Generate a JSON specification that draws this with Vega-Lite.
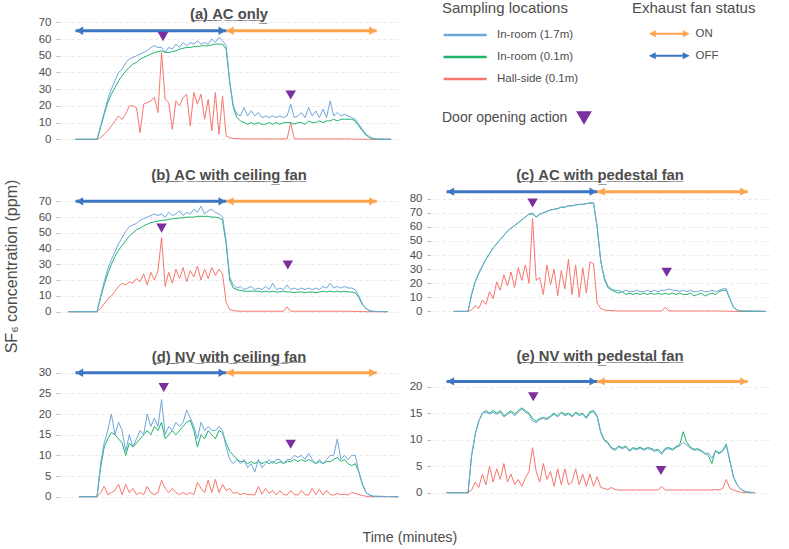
{
  "$schema": "https://vega.github.io/schema/vega-lite/v6.json",
  "background": "white",
  "padding": {"left": 3, "top": 1, "right": 5, "bottom": 5},
  "title": {"text": "Time (minutes)", "orient": "bottom", "anchor": "middle", "fontSize": 14.3, "fontWeight": "normal", "color": "#4d4d4d", "offset": 27, "dx": 23},
  "config": {
    "font": "Liberation Sans",
    "view": {"stroke": null},
    "title": {"fontSize": 14.8, "fontWeight": "bold", "color": "#4d4d4d"},
    "axis": {"labelColor": "#4d4d4d", "labelFontSize": 11.5, "tickColor": "#b5b5b5", "tickSize": 3, "labelPadding": 5, "domainColor": "#cfcfcf", "gridColor": "#e8e8e8", "gridDash": [3, 3], "titleFontWeight": "normal", "titleColor": "#4d4d4d", "titleFontSize": 16},
    "legend": {"titleFontWeight": "normal", "titleFontSize": 15, "titleColor": "#4d4d4d", "labelFontSize": 11.5, "labelColor": "#4d4d4d", "titleLimit": 300}
  },
  "datasets": {
    "ts": [
      {"p":"a","t":-30,"h":0,"l":0,"s":0},{"p":"a","t":0,"h":0,"l":0,"s":0},{"p":"a","t":5,"h":8,"l":7,"s":1},{"p":"a","t":10,"h":16,"l":15,"s":3},{"p":"a","t":15,"h":24,"l":22,"s":5},{"p":"a","t":20,"h":30,"l":27,"s":8},{"p":"a","t":25,"h":35,"l":31,"s":11},{"p":"a","t":30,"h":40,"l":35,"s":14},{"p":"a","t":35,"h":42,"l":38,"s":12},{"p":"a","t":40,"h":46,"l":41,"s":15},{"p":"a","t":45,"h":48,"l":43,"s":20},{"p":"a","t":50,"h":49,"l":45,"s":20},{"p":"a","t":55,"h":50,"l":46,"s":19},{"p":"a","t":60,"h":51,"l":48,"s":4},{"p":"a","t":65,"h":52,"l":49,"s":21},{"p":"a","t":70,"h":53,"l":50,"s":22},{"p":"a","t":75,"h":55,"l":51,"s":23},{"p":"a","t":80,"h":56,"l":52,"s":25},{"p":"a","t":85,"h":55,"l":52.5,"s":16},{"p":"a","t":90,"h":55,"l":53,"s":52},{"p":"a","t":95,"h":52,"l":52,"s":24},{"p":"a","t":100,"h":55,"l":52,"s":22},{"p":"a","t":105,"h":54,"l":52.5,"s":6},{"p":"a","t":110,"h":57,"l":53,"s":23},{"p":"a","t":115,"h":55,"l":54,"s":20},{"p":"a","t":120,"h":58,"l":54.5,"s":25},{"p":"a","t":125,"h":56,"l":55,"s":27},{"p":"a","t":130,"h":58,"l":55,"s":8},{"p":"a","t":135,"h":57,"l":55.5,"s":28},{"p":"a","t":140,"h":59,"l":55.5,"s":21},{"p":"a","t":145,"h":57,"l":56,"s":27},{"p":"a","t":150,"h":58,"l":56,"s":12},{"p":"a","t":155,"h":57,"l":56,"s":24},{"p":"a","t":160,"h":60,"l":56.5,"s":5},{"p":"a","t":165,"h":58,"l":57,"s":28},{"p":"a","t":170,"h":61,"l":57,"s":3},{"p":"a","t":175,"h":59,"l":57,"s":26},{"p":"a","t":180,"h":56,"l":54,"s":2},{"p":"a","t":185,"h":35,"l":34,"s":1},{"p":"a","t":190,"h":20,"l":19,"s":0.5},{"p":"a","t":195,"h":15,"l":13,"s":0.4},{"p":"a","t":200,"h":14,"l":11,"s":0.3},{"p":"a","t":205,"h":19,"l":10,"s":0.3},{"p":"a","t":210,"h":14,"l":9,"s":0.2},{"p":"a","t":215,"h":17,"l":10,"s":0.2},{"p":"a","t":220,"h":14,"l":9,"s":0.2},{"p":"a","t":225,"h":16,"l":10,"s":0.2},{"p":"a","t":230,"h":13,"l":9,"s":0.2},{"p":"a","t":235,"h":14,"l":9,"s":0.2},{"p":"a","t":240,"h":13,"l":10,"s":0.2},{"p":"a","t":245,"h":14,"l":9,"s":0.2},{"p":"a","t":250,"h":13,"l":10,"s":0.2},{"p":"a","t":255,"h":14,"l":9,"s":0.2},{"p":"a","t":260,"h":13,"l":10,"s":0.2},{"p":"a","t":265,"h":14,"l":10,"s":0.2},{"p":"a","t":270,"h":21,"l":10,"s":10},{"p":"a","t":275,"h":13,"l":9,"s":0.3},{"p":"a","t":280,"h":14,"l":10,"s":0.2},{"p":"a","t":285,"h":16,"l":10,"s":0.2},{"p":"a","t":290,"h":13,"l":9,"s":0.2},{"p":"a","t":295,"h":19,"l":11,"s":0.2},{"p":"a","t":300,"h":14,"l":10,"s":0.2},{"p":"a","t":305,"h":17,"l":10,"s":0.2},{"p":"a","t":310,"h":13,"l":11,"s":0.2},{"p":"a","t":315,"h":18,"l":10,"s":0.2},{"p":"a","t":320,"h":13,"l":11,"s":0.2},{"p":"a","t":325,"h":23,"l":11,"s":0.2},{"p":"a","t":330,"h":14,"l":12,"s":0.2},{"p":"a","t":335,"h":16,"l":11,"s":0.2},{"p":"a","t":340,"h":14,"l":12,"s":0.2},{"p":"a","t":345,"h":15,"l":12,"s":0.2},{"p":"a","t":350,"h":14,"l":12,"s":0.2},{"p":"a","t":355,"h":13,"l":12,"s":0.2},{"p":"a","t":360,"h":12,"l":11,"s":0.1},{"p":"a","t":365,"h":9,"l":8,"s":0.1},{"p":"a","t":370,"h":6,"l":5,"s":0.1},{"p":"a","t":375,"h":3,"l":2.5,"s":0},{"p":"a","t":380,"h":1.5,"l":1,"s":0},{"p":"a","t":385,"h":0.5,"l":0.3,"s":0},{"p":"a","t":390,"h":0.1,"l":0.1,"s":0},{"p":"a","t":410,"h":0,"l":0,"s":0},
      {"p":"b","t":-40,"h":0,"l":0,"s":0},{"p":"b","t":0,"h":0,"l":0,"s":0},{"p":"b","t":5,"h":10,"l":9,"s":2},{"p":"b","t":10,"h":19,"l":17,"s":5},{"p":"b","t":15,"h":27,"l":24,"s":8},{"p":"b","t":20,"h":33,"l":30,"s":10},{"p":"b","t":25,"h":38,"l":35,"s":13},{"p":"b","t":30,"h":43,"l":39,"s":16},{"p":"b","t":35,"h":47,"l":42,"s":18},{"p":"b","t":40,"h":51,"l":45,"s":17},{"p":"b","t":45,"h":54,"l":48,"s":19},{"p":"b","t":50,"h":55,"l":50,"s":18},{"p":"b","t":55,"h":56,"l":52,"s":21},{"p":"b","t":60,"h":58,"l":53,"s":19},{"p":"b","t":65,"h":59,"l":54.5,"s":24},{"p":"b","t":70,"h":60,"l":55.5,"s":17},{"p":"b","t":75,"h":61,"l":56.5,"s":25},{"p":"b","t":80,"h":62,"l":57,"s":20},{"p":"b","t":85,"h":61,"l":57.5,"s":26},{"p":"b","t":90,"h":62,"l":58,"s":47},{"p":"b","t":95,"h":60,"l":58,"s":16},{"p":"b","t":100,"h":63,"l":58.5,"s":25},{"p":"b","t":105,"h":61,"l":59,"s":18},{"p":"b","t":110,"h":62,"l":59,"s":27},{"p":"b","t":115,"h":64,"l":59.5,"s":21},{"p":"b","t":120,"h":61,"l":59.5,"s":28},{"p":"b","t":125,"h":63,"l":60,"s":19},{"p":"b","t":130,"h":62,"l":60,"s":26},{"p":"b","t":135,"h":65,"l":60,"s":22},{"p":"b","t":140,"h":63,"l":60.5,"s":29},{"p":"b","t":145,"h":67,"l":60.5,"s":20},{"p":"b","t":150,"h":62,"l":60.5,"s":27},{"p":"b","t":155,"h":64,"l":60.5,"s":21},{"p":"b","t":160,"h":65,"l":60,"s":28},{"p":"b","t":165,"h":63,"l":60,"s":23},{"p":"b","t":170,"h":62,"l":59.5,"s":27},{"p":"b","t":175,"h":60,"l":58,"s":24},{"p":"b","t":180,"h":45,"l":43,"s":6},{"p":"b","t":185,"h":22,"l":20,"s":1.5},{"p":"b","t":190,"h":17,"l":15,"s":0.6},{"p":"b","t":195,"h":15,"l":14,"s":0.4},{"p":"b","t":200,"h":16,"l":13.5,"s":0.3},{"p":"b","t":205,"h":14,"l":13,"s":0.3},{"p":"b","t":210,"h":15,"l":13,"s":0.3},{"p":"b","t":215,"h":16,"l":13,"s":0.3},{"p":"b","t":220,"h":14,"l":13,"s":0.3},{"p":"b","t":225,"h":15,"l":13,"s":0.3},{"p":"b","t":230,"h":14,"l":12.5,"s":0.3},{"p":"b","t":235,"h":16,"l":13,"s":0.3},{"p":"b","t":240,"h":14,"l":12.5,"s":0.3},{"p":"b","t":245,"h":18,"l":13,"s":0.3},{"p":"b","t":250,"h":14,"l":12.5,"s":0.3},{"p":"b","t":255,"h":15,"l":12.5,"s":0.3},{"p":"b","t":260,"h":14,"l":13,"s":0.3},{"p":"b","t":265,"h":17,"l":12.5,"s":3},{"p":"b","t":270,"h":14,"l":12.5,"s":0.3},{"p":"b","t":275,"h":15,"l":12,"s":0.3},{"p":"b","t":280,"h":14,"l":12.5,"s":0.3},{"p":"b","t":285,"h":15,"l":12.5,"s":0.3},{"p":"b","t":290,"h":14,"l":12,"s":0.3},{"p":"b","t":295,"h":15,"l":12.5,"s":0.3},{"p":"b","t":300,"h":14,"l":12.5,"s":0.3},{"p":"b","t":305,"h":15,"l":12,"s":0.3},{"p":"b","t":310,"h":14,"l":12.5,"s":0.3},{"p":"b","t":315,"h":16,"l":13,"s":0.3},{"p":"b","t":320,"h":15,"l":12.5,"s":0.3},{"p":"b","t":325,"h":18,"l":13,"s":0.3},{"p":"b","t":330,"h":15,"l":12.5,"s":0.3},{"p":"b","t":335,"h":16,"l":13,"s":0.3},{"p":"b","t":340,"h":15,"l":12.5,"s":0.3},{"p":"b","t":345,"h":16,"l":13,"s":0.3},{"p":"b","t":350,"h":15,"l":12.5,"s":0.3},{"p":"b","t":355,"h":15,"l":12.5,"s":0.2},{"p":"b","t":360,"h":14,"l":12,"s":0.2},{"p":"b","t":365,"h":10,"l":9,"s":0.1},{"p":"b","t":370,"h":5,"l":4.5,"s":0.1},{"p":"b","t":375,"h":2,"l":2,"s":0},{"p":"b","t":380,"h":0.7,"l":0.6,"s":0},{"p":"b","t":385,"h":0.2,"l":0.2,"s":0},{"p":"b","t":405,"h":0,"l":0,"s":0},
      {"p":"c","t":-20,"h":0,"l":0,"s":0},{"p":"c","t":0,"h":0,"l":0,"s":0},{"p":"c","t":5,"h":12,"l":12,"s":1},{"p":"c","t":10,"h":21,"l":21,"s":4},{"p":"c","t":15,"h":27,"l":27,"s":2},{"p":"c","t":20,"h":32,"l":32,"s":8},{"p":"c","t":25,"h":37,"l":37,"s":5},{"p":"c","t":30,"h":41,"l":41,"s":14},{"p":"c","t":35,"h":45,"l":45,"s":9},{"p":"c","t":40,"h":48,"l":48,"s":21},{"p":"c","t":45,"h":51,"l":51,"s":15},{"p":"c","t":50,"h":54,"l":54,"s":26},{"p":"c","t":55,"h":57,"l":57,"s":18},{"p":"c","t":60,"h":59,"l":59,"s":28},{"p":"c","t":65,"h":61,"l":61,"s":17},{"p":"c","t":70,"h":63,"l":63,"s":31},{"p":"c","t":75,"h":65,"l":65,"s":22},{"p":"c","t":80,"h":67,"l":67,"s":33},{"p":"c","t":85,"h":69,"l":69,"s":20},{"p":"c","t":90,"h":70,"l":69,"s":66},{"p":"c","t":95,"h":67,"l":67,"s":22},{"p":"c","t":100,"h":69,"l":69,"s":24},{"p":"c","t":105,"h":70,"l":70,"s":12},{"p":"c","t":110,"h":71,"l":71,"s":33},{"p":"c","t":115,"h":72,"l":72,"s":19},{"p":"c","t":120,"h":72.5,"l":72.5,"s":30},{"p":"c","t":125,"h":73,"l":73,"s":11},{"p":"c","t":130,"h":74,"l":74,"s":29},{"p":"c","t":135,"h":74,"l":74,"s":16},{"p":"c","t":140,"h":75,"l":75,"s":37},{"p":"c","t":145,"h":75,"l":75,"s":12},{"p":"c","t":150,"h":75.5,"l":75.5,"s":33},{"p":"c","t":155,"h":76,"l":76,"s":10},{"p":"c","t":160,"h":76,"l":76,"s":31},{"p":"c","t":165,"h":76.5,"l":76.5,"s":13},{"p":"c","t":170,"h":77,"l":77,"s":35},{"p":"c","t":175,"h":77,"l":77,"s":34},{"p":"c","t":180,"h":60,"l":60,"s":6},{"p":"c","t":185,"h":36,"l":36,"s":2},{"p":"c","t":190,"h":24,"l":23,"s":1},{"p":"c","t":195,"h":18,"l":17,"s":0.7},{"p":"c","t":200,"h":16,"l":15,"s":0.5},{"p":"c","t":205,"h":15,"l":14,"s":0.4},{"p":"c","t":210,"h":15,"l":13,"s":0.3},{"p":"c","t":215,"h":14,"l":14,"s":0.3},{"p":"c","t":220,"h":15,"l":12,"s":0.3},{"p":"c","t":225,"h":14,"l":13,"s":0.3},{"p":"c","t":230,"h":14,"l":12,"s":0.3},{"p":"c","t":235,"h":15,"l":13,"s":0.3},{"p":"c","t":240,"h":14,"l":12,"s":0.3},{"p":"c","t":245,"h":14,"l":13,"s":0.3},{"p":"c","t":250,"h":15,"l":12,"s":0.3},{"p":"c","t":255,"h":14,"l":13,"s":0.3},{"p":"c","t":260,"h":15,"l":12,"s":0.3},{"p":"c","t":265,"h":14,"l":13,"s":0.3},{"p":"c","t":270,"h":15,"l":12,"s":0.3},{"p":"c","t":275,"h":15,"l":13,"s":3},{"p":"c","t":280,"h":16,"l":12,"s":0.3},{"p":"c","t":285,"h":15,"l":13,"s":0.3},{"p":"c","t":290,"h":15,"l":12,"s":0.3},{"p":"c","t":295,"h":14,"l":13,"s":0.3},{"p":"c","t":300,"h":15,"l":12,"s":0.3},{"p":"c","t":305,"h":14,"l":12,"s":0.3},{"p":"c","t":310,"h":15,"l":13,"s":0.3},{"p":"c","t":315,"h":14,"l":11,"s":0.3},{"p":"c","t":320,"h":14,"l":12,"s":0.3},{"p":"c","t":325,"h":15,"l":13,"s":0.3},{"p":"c","t":330,"h":14,"l":11,"s":0.3},{"p":"c","t":335,"h":14,"l":12,"s":0.3},{"p":"c","t":340,"h":15,"l":13,"s":0.3},{"p":"c","t":345,"h":14,"l":12,"s":0.3},{"p":"c","t":350,"h":15,"l":14,"s":0.3},{"p":"c","t":355,"h":16,"l":15,"s":0.2},{"p":"c","t":360,"h":16,"l":15,"s":0.2},{"p":"c","t":365,"h":9,"l":9,"s":0.1},{"p":"c","t":370,"h":3,"l":3,"s":0},{"p":"c","t":375,"h":1,"l":1,"s":0},{"p":"c","t":380,"h":0.3,"l":0.3,"s":0},{"p":"c","t":415,"h":0,"l":0,"s":0},
      {"p":"d","t":-25,"h":0,"l":0,"s":0},{"p":"d","t":0,"h":0,"l":0,"s":0},{"p":"d","t":5,"h":8,"l":7,"s":1},{"p":"d","t":10,"h":13,"l":12,"s":2.5},{"p":"d","t":15,"h":16,"l":14,"s":0.5},{"p":"d","t":20,"h":20,"l":15.5,"s":1},{"p":"d","t":25,"h":15,"l":15,"s":1.5},{"p":"d","t":30,"h":18,"l":14,"s":3},{"p":"d","t":35,"h":16,"l":13,"s":0.5},{"p":"d","t":40,"h":11,"l":10,"s":3},{"p":"d","t":45,"h":15,"l":13,"s":1},{"p":"d","t":50,"h":12,"l":12,"s":2},{"p":"d","t":55,"h":14,"l":13,"s":0.5},{"p":"d","t":60,"h":16,"l":14,"s":1},{"p":"d","t":65,"h":15,"l":15,"s":0.5},{"p":"d","t":70,"h":20,"l":16,"s":2.5},{"p":"d","t":75,"h":17,"l":15,"s":1},{"p":"d","t":80,"h":19,"l":17,"s":0.5},{"p":"d","t":85,"h":17,"l":16,"s":1},{"p":"d","t":90,"h":23.5,"l":18,"s":4},{"p":"d","t":95,"h":15,"l":14,"s":2},{"p":"d","t":100,"h":17,"l":15,"s":1},{"p":"d","t":105,"h":16,"l":16,"s":2},{"p":"d","t":110,"h":18,"l":15,"s":1},{"p":"d","t":115,"h":17,"l":16,"s":0.5},{"p":"d","t":120,"h":18,"l":17,"s":1},{"p":"d","t":125,"h":21,"l":18,"s":0.5},{"p":"d","t":130,"h":19,"l":18.5,"s":1},{"p":"d","t":135,"h":17,"l":16,"s":0.5},{"p":"d","t":140,"h":14,"l":12,"s":3.5},{"p":"d","t":145,"h":18,"l":15,"s":2},{"p":"d","t":150,"h":16,"l":14,"s":1},{"p":"d","t":155,"h":17,"l":16,"s":4},{"p":"d","t":160,"h":16,"l":15,"s":1},{"p":"d","t":165,"h":16,"l":14,"s":4.2},{"p":"d","t":170,"h":17,"l":16,"s":1},{"p":"d","t":175,"h":16,"l":15.5,"s":3},{"p":"d","t":180,"h":12,"l":13,"s":1.5},{"p":"d","t":185,"h":9,"l":11,"s":2},{"p":"d","t":190,"h":8,"l":10,"s":0.8},{"p":"d","t":195,"h":9,"l":9,"s":1},{"p":"d","t":200,"h":8,"l":8.5,"s":0.5},{"p":"d","t":205,"h":9,"l":8.5,"s":0.8},{"p":"d","t":210,"h":7,"l":8,"s":0.5},{"p":"d","t":215,"h":8,"l":8.5,"s":0.5},{"p":"d","t":220,"h":6,"l":8,"s":0.4},{"p":"d","t":225,"h":9,"l":8.5,"s":2.5},{"p":"d","t":230,"h":7,"l":8,"s":0.6},{"p":"d","t":235,"h":8,"l":8.5,"s":2},{"p":"d","t":240,"h":9,"l":8,"s":0.8},{"p":"d","t":245,"h":8,"l":8.5,"s":1.5},{"p":"d","t":250,"h":9,"l":8,"s":0.4},{"p":"d","t":255,"h":9,"l":8.5,"s":1.5},{"p":"d","t":260,"h":8,"l":8,"s":0.5},{"p":"d","t":265,"h":9,"l":8.5,"s":0.4},{"p":"d","t":270,"h":9,"l":8.5,"s":1.5},{"p":"d","t":275,"h":10,"l":9,"s":0.5},{"p":"d","t":280,"h":9.5,"l":8.5,"s":0.4},{"p":"d","t":285,"h":10,"l":9,"s":1.5},{"p":"d","t":290,"h":9,"l":8.5,"s":0.5},{"p":"d","t":295,"h":10.5,"l":9,"s":0.4},{"p":"d","t":300,"h":9,"l":8.5,"s":2},{"p":"d","t":305,"h":8,"l":8,"s":0.5},{"p":"d","t":310,"h":9,"l":8.5,"s":1.8},{"p":"d","t":315,"h":8,"l":8,"s":0.4},{"p":"d","t":320,"h":9,"l":8.5,"s":1.5},{"p":"d","t":325,"h":10,"l":8.5,"s":0.5},{"p":"d","t":330,"h":10,"l":9,"s":0.4},{"p":"d","t":335,"h":14,"l":9.5,"s":0.8},{"p":"d","t":340,"h":9,"l":8.5,"s":0.5},{"p":"d","t":345,"h":10,"l":9,"s":0.6},{"p":"d","t":350,"h":9,"l":8,"s":0.4},{"p":"d","t":355,"h":10,"l":7.5,"s":1},{"p":"d","t":360,"h":10,"l":8,"s":0.8},{"p":"d","t":365,"h":6,"l":6,"s":0.5},{"p":"d","t":370,"h":3,"l":3,"s":0.3},{"p":"d","t":375,"h":1,"l":1,"s":0.1},{"p":"d","t":380,"h":0.4,"l":0.4,"s":0},{"p":"d","t":385,"h":0.1,"l":0.1,"s":0},{"p":"d","t":420,"h":0,"l":0,"s":0},
      {"p":"e","t":-30,"h":0,"l":0,"s":0},{"p":"e","t":0,"h":0,"l":0,"s":0},{"p":"e","t":5,"h":7,"l":7,"s":0.5},{"p":"e","t":10,"h":11,"l":11,"s":2},{"p":"e","t":15,"h":13.5,"l":13.5,"s":1},{"p":"e","t":20,"h":15,"l":15,"s":3.5},{"p":"e","t":25,"h":15.2,"l":15.5,"s":1.5},{"p":"e","t":30,"h":14.8,"l":15,"s":5},{"p":"e","t":35,"h":15.2,"l":15.5,"s":2},{"p":"e","t":40,"h":14.8,"l":15,"s":4.5},{"p":"e","t":45,"h":15.2,"l":15.5,"s":2.5},{"p":"e","t":50,"h":14.3,"l":14.5,"s":5.5},{"p":"e","t":55,"h":14.8,"l":15,"s":2},{"p":"e","t":60,"h":15.2,"l":15.5,"s":3.5},{"p":"e","t":65,"h":14.5,"l":14.8,"s":1.5},{"p":"e","t":70,"h":15.2,"l":15.5,"s":2.5},{"p":"e","t":75,"h":15.8,"l":16,"s":1.2},{"p":"e","t":80,"h":15.2,"l":15.5,"s":2.8},{"p":"e","t":85,"h":14.8,"l":15,"s":4},{"p":"e","t":90,"h":13.5,"l":14,"s":8.5},{"p":"e","t":95,"h":13.2,"l":13.5,"s":4},{"p":"e","t":100,"h":13.8,"l":14,"s":2},{"p":"e","t":105,"h":14,"l":14.2,"s":5.5},{"p":"e","t":110,"h":13.8,"l":14,"s":2.5},{"p":"e","t":115,"h":14.3,"l":14.5,"s":4},{"p":"e","t":120,"h":14.8,"l":15,"s":1.2},{"p":"e","t":125,"h":14.3,"l":14.5,"s":4.5},{"p":"e","t":130,"h":15,"l":15.2,"s":1.5},{"p":"e","t":135,"h":14.5,"l":14.8,"s":4.5},{"p":"e","t":140,"h":14.8,"l":15,"s":1.5},{"p":"e","t":145,"h":14.3,"l":14.5,"s":2},{"p":"e","t":150,"h":15,"l":15.2,"s":4.5},{"p":"e","t":155,"h":14.5,"l":14.8,"s":1.5},{"p":"e","t":160,"h":14.8,"l":15,"s":3.5},{"p":"e","t":165,"h":14,"l":14.2,"s":1.2},{"p":"e","t":170,"h":15,"l":15.3,"s":3.5},{"p":"e","t":175,"h":15.3,"l":15.5,"s":1.2},{"p":"e","t":180,"h":14.3,"l":14.5,"s":3},{"p":"e","t":185,"h":11.3,"l":11.5,"s":1},{"p":"e","t":190,"h":9.8,"l":10,"s":0.8},{"p":"e","t":195,"h":9.3,"l":9.5,"s":0.6},{"p":"e","t":200,"h":8.3,"l":8.5,"s":1},{"p":"e","t":205,"h":8,"l":8.2,"s":0.6},{"p":"e","t":210,"h":8.6,"l":8.8,"s":0.5},{"p":"e","t":215,"h":8.3,"l":8.5,"s":0.5},{"p":"e","t":220,"h":8.6,"l":8.8,"s":0.5},{"p":"e","t":225,"h":7.8,"l":8,"s":0.5},{"p":"e","t":230,"h":8.3,"l":8.5,"s":0.5},{"p":"e","t":235,"h":8.1,"l":8.3,"s":0.5},{"p":"e","t":240,"h":8.4,"l":8.6,"s":0.5},{"p":"e","t":245,"h":8,"l":8.2,"s":0.5},{"p":"e","t":250,"h":8.3,"l":8.5,"s":0.5},{"p":"e","t":255,"h":8.2,"l":8.4,"s":0.5},{"p":"e","t":260,"h":7.8,"l":8,"s":0.5},{"p":"e","t":265,"h":8,"l":8.2,"s":0.5},{"p":"e","t":270,"h":7.2,"l":7.5,"s":1.2},{"p":"e","t":275,"h":8.2,"l":8.4,"s":0.5},{"p":"e","t":280,"h":8.3,"l":8.5,"s":0.5},{"p":"e","t":285,"h":8,"l":8.2,"s":0.5},{"p":"e","t":290,"h":8.5,"l":8.7,"s":0.5},{"p":"e","t":295,"h":8.8,"l":9,"s":0.5},{"p":"e","t":300,"h":9.5,"l":11.5,"s":0.5},{"p":"e","t":305,"h":9,"l":9.5,"s":0.5},{"p":"e","t":310,"h":8.4,"l":8.6,"s":0.5},{"p":"e","t":315,"h":8,"l":8.2,"s":0.5},{"p":"e","t":320,"h":8.1,"l":8.3,"s":0.5},{"p":"e","t":325,"h":7.8,"l":8,"s":0.5},{"p":"e","t":330,"h":7.3,"l":7.5,"s":0.5},{"p":"e","t":335,"h":7.5,"l":7,"s":0.5},{"p":"e","t":340,"h":6.5,"l":5.5,"s":0.5},{"p":"e","t":345,"h":7.8,"l":8,"s":0.6},{"p":"e","t":350,"h":7.3,"l":7.5,"s":0.5},{"p":"e","t":355,"h":7.8,"l":8,"s":0.8},{"p":"e","t":360,"h":9,"l":9.2,"s":2.5},{"p":"e","t":365,"h":6,"l":6,"s":0.8},{"p":"e","t":370,"h":3,"l":3,"s":0.5},{"p":"e","t":375,"h":1.5,"l":1.5,"s":0.3},{"p":"e","t":380,"h":0.7,"l":0.7,"s":0.1},{"p":"e","t":385,"h":0.3,"l":0.3,"s":0},{"p":"e","t":390,"h":0.1,"l":0.1,"s":0},{"p":"e","t":400,"h":0,"l":0,"s":0}
    ],
    "arrows": [
      {"p":"a","st":"OFF","t":-30,"t2":180,"val":65},{"p":"a","st":"ON","t":180,"t2":390,"val":65},
      {"p":"b","st":"OFF","t":-30,"t2":180,"val":70},{"p":"b","st":"ON","t":180,"t2":390,"val":70},
      {"p":"c","st":"OFF","t":-30,"t2":180,"val":85},{"p":"c","st":"ON","t":180,"t2":390,"val":85},
      {"p":"d","st":"OFF","t":-30,"t2":180,"val":30},{"p":"d","st":"ON","t":180,"t2":390,"val":30},
      {"p":"e","st":"OFF","t":-30,"t2":180,"val":21},{"p":"e","st":"ON","t":180,"t2":390,"val":21}
    ],
    "doors": [
      {"p":"a","act":"door","t":92,"val":61.5},{"p":"a","act":"door","t":270,"val":26.5},
      {"p":"b","act":"door","t":90,"val":53},{"p":"b","act":"door","t":266,"val":29.6},
      {"p":"c","act":"door","t":90,"val":77},{"p":"c","act":"door","t":277,"val":27.8},
      {"p":"d","act":"door","t":93,"val":26.4},{"p":"d","act":"door","t":270,"val":12.7},
      {"p":"e","act":"door","t":91,"val":18.1},{"p":"e","act":"door","t":269,"val":4.2}
    ]
  },
  "columns": 2,
  "bounds": "flush",
  "spacing": {"row": 41, "column": 31},
  "concat": [
    {
      "title": {"text": "(\u0332a\u0332)\u0332 \u0332A\u0332C\u0332 \u0332o\u0332n\u0332l\u0332y\u0332", "offset": -5.4},
      "width": 340, "height": 126.3,
      "encoding": {
        "x": {"field": "t", "type": "quantitative", "title": null, "scale": {"domain": [-53, 421], "nice": false, "zero": false}, "axis": {"values": [0, 90, 180, 270, 360], "labels": false, "tickSize": 4}},
        "y": {"field": "val", "type": "quantitative", "title": null, "scale": {"domain": [-5.39, 70.24], "nice": false, "zero": false}, "axis": {"values": [0, 10, 20, 30, 40, 50, 60, 70], "domain": false}}
      },
      "layer": [
        {"data": {"name": "ts"}, "transform": [{"filter": "datum.p == 'a'"}, {"fold": ["s", "l", "h"], "as": ["series", "val"]}],
         "mark": {"type": "line", "strokeWidth": 1},
         "encoding": {"stroke": {"field": "series", "type": "nominal", "scale": {"domain": ["h", "l", "s"], "range": ["#6ea6dc", "#1fb36c", "#f8766d"]},
           "legend": {"title": "Sampling locations", "orient": "none", "legendX": 383, "legendY": -21, "symbolType": "M-1,0H7", "symbolSize": 116, "symbolStrokeWidth": 2.5, "labelOffset": 41, "rowPadding": 9, "titlePadding": 12,
             "labelExpr": "datum.label == 'h' ? 'In-room (1.7m)' : datum.label == 'l' ? 'In-room (0.1m)' : 'Hall-side (0.1m)'"}}}},
        {"data": {"name": "arrows"}, "transform": [{"filter": "datum.p == 'a'"}],
         "mark": {"type": "rule", "strokeWidth": 3},
         "encoding": {"x2": {"field": "t2"}, "color": {"field": "st", "type": "nominal", "scale": {"domain": ["ON", "OFF"], "range": ["#ffa54f", "#3d76c2"]},
           "legend": {"title": "Exhaust fan status", "orient": "none", "legendX": 573, "legendY": -21, "symbolType": "M2.75,0L4.5,-0.9L4.5,-0.25L11.25,-0.25L11.25,-0.9L13,0L11.25,0.9L11.25,0.25L4.5,0.25L4.5,0.9Z", "symbolSize": 64, "symbolStrokeWidth": 0, "labelOffset": 52, "rowPadding": 9, "titlePadding": 12,
             "encode": {"symbols": {"update": {"fill": {"scale": "color", "field": "value"}, "strokeWidth": {"value": 0}, "opacity": {"value": 1}}}}}}}},
        {"data": {"name": "arrows"}, "transform": [{"filter": "datum.p == 'a'"}],
         "mark": {"type": "point", "filled": true, "shape": "triangle-left", "size": 70, "opacity": 1},
         "encoding": {"xOffset": {"value": 4}, "color": {"field": "st", "type": "nominal", "scale": {"domain": ["ON", "OFF"], "range": ["#ffa54f", "#3d76c2"]}, "legend": null}}},
        {"data": {"name": "arrows"}, "transform": [{"filter": "datum.p == 'a'"}],
         "mark": {"type": "point", "filled": true, "shape": "triangle-right", "size": 70, "opacity": 1},
         "encoding": {"x": {"field": "t2", "type": "quantitative", "scale": {"domain": [-53, 421], "nice": false, "zero": false}, "axis": null}, "xOffset": {"value": -4}, "color": {"field": "st", "type": "nominal", "scale": {"domain": ["ON", "OFF"], "range": ["#ffa54f", "#3d76c2"]}, "legend": null}}},
        {"data": {"name": "doors"}, "transform": [{"filter": "datum.p == 'a'"}],
         "mark": {"type": "point", "filled": true, "size": 110, "opacity": 1, "color": "#7b2e9d"},
         "encoding": {"shape": {"field": "act", "type": "nominal", "scale": {"domain": ["door"], "range": ["triangle-down"]},
           "legend": {"title": "Door opening action", "titleFontSize": 14, "titleOrient": "left", "orient": "none", "legendX": 383, "legendY": 87, "labelExpr": "''", "symbolSize": 250, "symbolFillColor": "#7b2e9d", "symbolStrokeColor": "#7b2e9d", "titlePadding": 7}}}}
      ]
    },
    {
      "width": 340, "height": 126.3,
      "data": {"values": [{}]},
      "mark": {"type": "text", "text": ""},
      "encoding": {}
    },
    {
      "title": {"text": "(\u0332b\u0332)\u0332 \u0332A\u0332C\u0332 \u0332w\u0332i\u0332t\u0332h\u0332 \u0332c\u0332e\u0332i\u0332l\u0332i\u0332n\u0332g\u0332 \u0332f\u0332a\u0332n\u0332", "offset": -3.3},
      "width": 340, "height": 129.7,
      "encoding": {
        "x": {"field": "t", "type": "quantitative", "title": null, "scale": {"domain": [-53, 421], "nice": false, "zero": false}, "axis": {"values": [0, 90, 180, 270, 360], "labels": false, "tickSize": 4}},
        "y": {"field": "val", "type": "quantitative", "title": "SF\u2086 concentration (ppm)", "scale": {"domain": [-5.08, 77.2], "nice": false, "zero": false}, "axis": {"values": [0, 10, 20, 30, 40, 50, 60, 70], "domain": false, "titleY": 76, "titlePadding": 18.5}}
      },
      "layer": [
        {"data": {"name": "ts"}, "transform": [{"filter": "datum.p == 'b'"}, {"fold": ["s", "l", "h"], "as": ["series", "val"]}],
         "mark": {"type": "line", "strokeWidth": 1},
         "encoding": {"stroke": {"field": "series", "type": "nominal", "scale": {"domain": ["h", "l", "s"], "range": ["#6ea6dc", "#1fb36c", "#f8766d"]}, "legend": null}}},
        {"data": {"name": "arrows"}, "transform": [{"filter": "datum.p == 'b'"}],
         "mark": {"type": "rule", "strokeWidth": 3},
         "encoding": {"x2": {"field": "t2"}, "color": {"field": "st", "type": "nominal", "scale": {"domain": ["ON", "OFF"], "range": ["#ffa54f", "#3d76c2"]}, "legend": null}}},
        {"data": {"name": "arrows"}, "transform": [{"filter": "datum.p == 'b'"}],
         "mark": {"type": "point", "filled": true, "shape": "triangle-left", "size": 70, "opacity": 1},
         "encoding": {"xOffset": {"value": 4}, "color": {"field": "st", "type": "nominal", "scale": {"domain": ["ON", "OFF"], "range": ["#ffa54f", "#3d76c2"]}, "legend": null}}},
        {"data": {"name": "arrows"}, "transform": [{"filter": "datum.p == 'b'"}],
         "mark": {"type": "point", "filled": true, "shape": "triangle-right", "size": 70, "opacity": 1},
         "encoding": {"x": {"field": "t2", "type": "quantitative", "scale": {"domain": [-53, 421], "nice": false, "zero": false}, "axis": null}, "xOffset": {"value": -4}, "color": {"field": "st", "type": "nominal", "scale": {"domain": ["ON", "OFF"], "range": ["#ffa54f", "#3d76c2"]}, "legend": null}}},
        {"data": {"name": "doors"}, "transform": [{"filter": "datum.p == 'b'"}],
         "mark": {"type": "point", "filled": true, "size": 110, "opacity": 1, "color": "#7b2e9d"},
         "encoding": {"shape": {"field": "act", "type": "nominal", "scale": {"domain": ["door"], "range": ["triangle-down"]}, "legend": null}}}
      ]
    },
    {
      "title": {"text": "(\u0332c\u0332)\u0332 \u0332A\u0332C\u0332 \u0332w\u0332i\u0332t\u0332h\u0332 \u0332p\u0332e\u0332d\u0332e\u0332s\u0332t\u0332a\u0332l\u0332 \u0332f\u0332a\u0332n\u0332", "offset": 4.5},
      "width": 340, "height": 129.7,
      "encoding": {
        "x": {"field": "t", "type": "quantitative", "title": null, "scale": {"domain": [-53, 421], "nice": false, "zero": false}, "axis": {"values": [0, 90, 180, 270, 360], "labels": false, "tickSize": 4}},
        "y": {"field": "val", "type": "quantitative", "title": null, "scale": {"domain": [-5.9, 86.2], "nice": false, "zero": false}, "axis": {"values": [0, 10, 20, 30, 40, 50, 60, 70, 80], "domain": false}}
      },
      "layer": [
        {"data": {"name": "ts"}, "transform": [{"filter": "datum.p == 'c'"}, {"fold": ["s", "l", "h"], "as": ["series", "val"]}],
         "mark": {"type": "line", "strokeWidth": 1},
         "encoding": {"stroke": {"field": "series", "type": "nominal", "scale": {"domain": ["h", "l", "s"], "range": ["#6ea6dc", "#1fb36c", "#f8766d"]}, "legend": null}}},
        {"data": {"name": "arrows"}, "transform": [{"filter": "datum.p == 'c'"}],
         "mark": {"type": "rule", "strokeWidth": 3},
         "encoding": {"x2": {"field": "t2"}, "color": {"field": "st", "type": "nominal", "scale": {"domain": ["ON", "OFF"], "range": ["#ffa54f", "#3d76c2"]}, "legend": null}}},
        {"data": {"name": "arrows"}, "transform": [{"filter": "datum.p == 'c'"}],
         "mark": {"type": "point", "filled": true, "shape": "triangle-left", "size": 70, "opacity": 1},
         "encoding": {"xOffset": {"value": 4}, "color": {"field": "st", "type": "nominal", "scale": {"domain": ["ON", "OFF"], "range": ["#ffa54f", "#3d76c2"]}, "legend": null}}},
        {"data": {"name": "arrows"}, "transform": [{"filter": "datum.p == 'c'"}],
         "mark": {"type": "point", "filled": true, "shape": "triangle-right", "size": 70, "opacity": 1},
         "encoding": {"x": {"field": "t2", "type": "quantitative", "scale": {"domain": [-53, 421], "nice": false, "zero": false}, "axis": null}, "xOffset": {"value": -4}, "color": {"field": "st", "type": "nominal", "scale": {"domain": ["ON", "OFF"], "range": ["#ffa54f", "#3d76c2"]}, "legend": null}}},
        {"data": {"name": "doors"}, "transform": [{"filter": "datum.p == 'c'"}],
         "mark": {"type": "point", "filled": true, "size": 110, "opacity": 1, "color": "#7b2e9d"},
         "encoding": {"shape": {"field": "act", "type": "nominal", "scale": {"domain": ["door"], "range": ["triangle-down"]}, "legend": null}}}
      ]
    },
    {
      "title": {"text": "(\u0332d\u0332)\u0332 \u0332N\u0332V\u0332 \u0332w\u0332i\u0332t\u0332h\u0332 \u0332c\u0332e\u0332i\u0332l\u0332i\u0332n\u0332g\u0332 \u0332f\u0332a\u0332n\u0332", "offset": -3.3},
      "width": 340, "height": 143.3,
      "encoding": {
        "x": {"field": "t", "type": "quantitative", "title": null, "scale": {"domain": [-53, 421], "nice": false, "zero": false}, "axis": {"values": [0, 90, 180, 270, 360], "tickSize": 4, "labelPadding": 6}},
        "y": {"field": "val", "type": "quantitative", "title": null, "scale": {"domain": [-1.84, 32.83], "nice": false, "zero": false}, "axis": {"values": [0, 5, 10, 15, 20, 25, 30], "domain": false}}
      },
      "layer": [
        {"data": {"name": "ts"}, "transform": [{"filter": "datum.p == 'd'"}, {"fold": ["s", "l", "h"], "as": ["series", "val"]}],
         "mark": {"type": "line", "strokeWidth": 1},
         "encoding": {"stroke": {"field": "series", "type": "nominal", "scale": {"domain": ["h", "l", "s"], "range": ["#6ea6dc", "#1fb36c", "#f8766d"]}, "legend": null}}},
        {"data": {"name": "arrows"}, "transform": [{"filter": "datum.p == 'd'"}],
         "mark": {"type": "rule", "strokeWidth": 3},
         "encoding": {"x2": {"field": "t2"}, "color": {"field": "st", "type": "nominal", "scale": {"domain": ["ON", "OFF"], "range": ["#ffa54f", "#3d76c2"]}, "legend": null}}},
        {"data": {"name": "arrows"}, "transform": [{"filter": "datum.p == 'd'"}],
         "mark": {"type": "point", "filled": true, "shape": "triangle-left", "size": 70, "opacity": 1},
         "encoding": {"xOffset": {"value": 4}, "color": {"field": "st", "type": "nominal", "scale": {"domain": ["ON", "OFF"], "range": ["#ffa54f", "#3d76c2"]}, "legend": null}}},
        {"data": {"name": "arrows"}, "transform": [{"filter": "datum.p == 'd'"}],
         "mark": {"type": "point", "filled": true, "shape": "triangle-right", "size": 70, "opacity": 1},
         "encoding": {"x": {"field": "t2", "type": "quantitative", "scale": {"domain": [-53, 421], "nice": false, "zero": false}, "axis": null}, "xOffset": {"value": -4}, "color": {"field": "st", "type": "nominal", "scale": {"domain": ["ON", "OFF"], "range": ["#ffa54f", "#3d76c2"]}, "legend": null}}},
        {"data": {"name": "doors"}, "transform": [{"filter": "datum.p == 'd'"}],
         "mark": {"type": "point", "filled": true, "size": 110, "opacity": 1, "color": "#7b2e9d"},
         "encoding": {"shape": {"field": "act", "type": "nominal", "scale": {"domain": ["door"], "range": ["triangle-down"]}, "legend": null}}}
      ]
    },
    {
      "title": {"text": "(\u0332e\u0332)\u0332 \u0332N\u0332V\u0332 \u0332w\u0332i\u0332t\u0332h\u0332 \u0332p\u0332e\u0332d\u0332e\u0332s\u0332t\u0332a\u0332l\u0332 \u0332f\u0332a\u0332n\u0332", "offset": -2.8},
      "width": 340, "height": 143.3,
      "encoding": {
        "x": {"field": "t", "type": "quantitative", "title": null, "scale": {"domain": [-53, 421], "nice": false, "zero": false}, "axis": {"values": [0, 90, 180, 270, 360], "tickSize": 4, "labelPadding": 6}},
        "y": {"field": "val", "type": "quantitative", "title": null, "scale": {"domain": [-2.19, 24.85], "nice": false, "zero": false}, "axis": {"values": [0, 5, 10, 15, 20], "domain": false}}
      },
      "layer": [
        {"data": {"name": "ts"}, "transform": [{"filter": "datum.p == 'e'"}, {"fold": ["s", "l", "h"], "as": ["series", "val"]}],
         "mark": {"type": "line", "strokeWidth": 1},
         "encoding": {"stroke": {"field": "series", "type": "nominal", "scale": {"domain": ["h", "l", "s"], "range": ["#6ea6dc", "#1fb36c", "#f8766d"]}, "legend": null}}},
        {"data": {"name": "arrows"}, "transform": [{"filter": "datum.p == 'e'"}],
         "mark": {"type": "rule", "strokeWidth": 3},
         "encoding": {"x2": {"field": "t2"}, "color": {"field": "st", "type": "nominal", "scale": {"domain": ["ON", "OFF"], "range": ["#ffa54f", "#3d76c2"]}, "legend": null}}},
        {"data": {"name": "arrows"}, "transform": [{"filter": "datum.p == 'e'"}],
         "mark": {"type": "point", "filled": true, "shape": "triangle-left", "size": 70, "opacity": 1},
         "encoding": {"xOffset": {"value": 4}, "color": {"field": "st", "type": "nominal", "scale": {"domain": ["ON", "OFF"], "range": ["#ffa54f", "#3d76c2"]}, "legend": null}}},
        {"data": {"name": "arrows"}, "transform": [{"filter": "datum.p == 'e'"}],
         "mark": {"type": "point", "filled": true, "shape": "triangle-right", "size": 70, "opacity": 1},
         "encoding": {"x": {"field": "t2", "type": "quantitative", "scale": {"domain": [-53, 421], "nice": false, "zero": false}, "axis": null}, "xOffset": {"value": -4}, "color": {"field": "st", "type": "nominal", "scale": {"domain": ["ON", "OFF"], "range": ["#ffa54f", "#3d76c2"]}, "legend": null}}},
        {"data": {"name": "doors"}, "transform": [{"filter": "datum.p == 'e'"}],
         "mark": {"type": "point", "filled": true, "size": 110, "opacity": 1, "color": "#7b2e9d"},
         "encoding": {"shape": {"field": "act", "type": "nominal", "scale": {"domain": ["door"], "range": ["triangle-down"]}, "legend": null}}}
      ]
    }
  ]
}
